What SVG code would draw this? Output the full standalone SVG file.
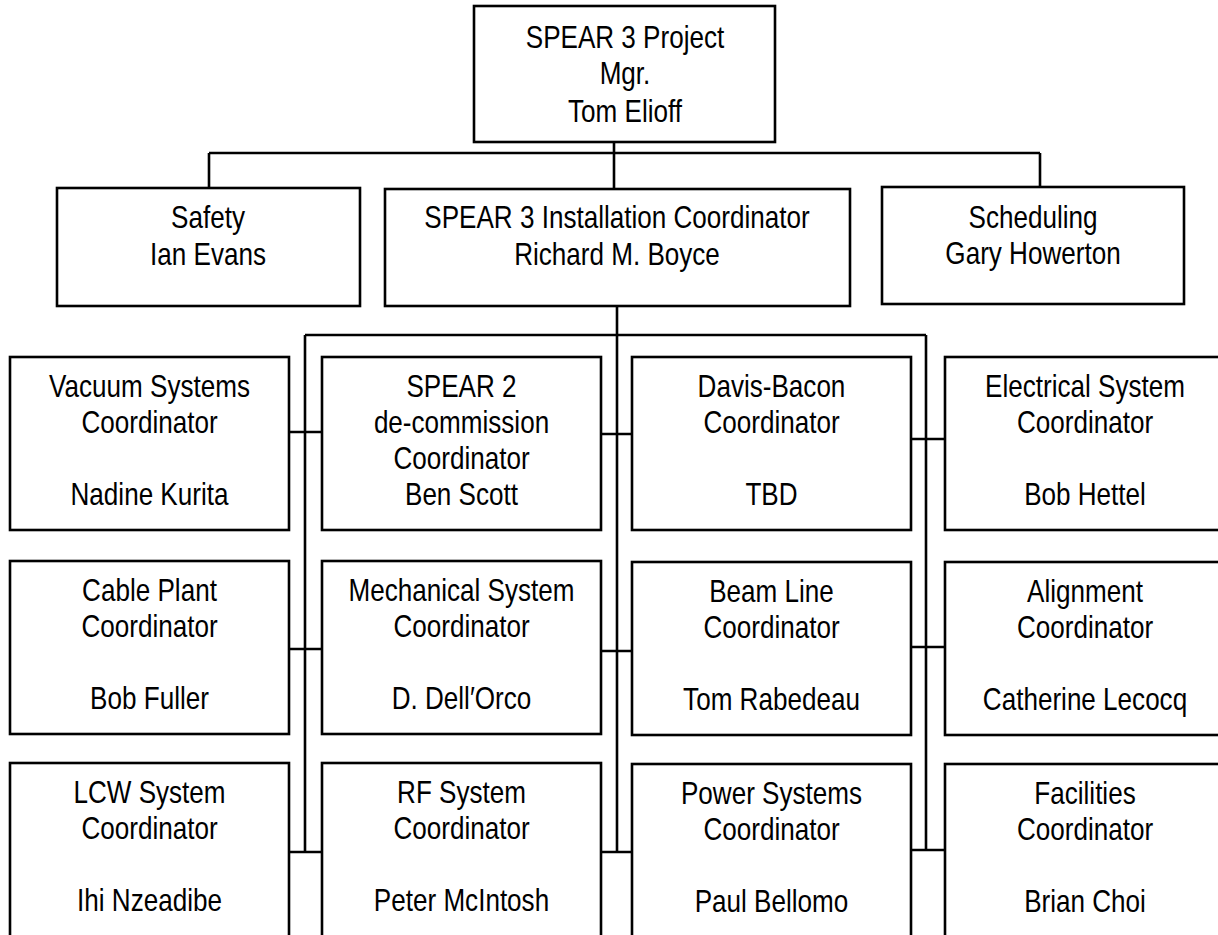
<svg xmlns="http://www.w3.org/2000/svg" width="1218" height="935" viewBox="0 0 1218 935">
<style>
.box{fill:#fff;stroke:#000;stroke-width:2.6}
.ln{fill:none;stroke:#000;stroke-width:2.6}
text{font-family:"Liberation Sans",Arial,sans-serif;font-size:30.5px;fill:#000;text-anchor:middle}
</style>
<rect width="1218" height="935" fill="#fff"/>
<g id="connectors">
<path class="ln" d="M614 142V189M209 153H1040M209 153V188M1040 153V188"/>
<path class="ln" d="M617 306V852M305 335H926M305 335V852M926 335V850"/>
<path class="ln" d="M289 432H322M289 649H322M289 852H322"/>
<path class="ln" d="M601 434H632M601 651H632M601 852H632"/>
<path class="ln" d="M911 439H945M911 647H945M911 850H945"/>
</g>
<g id="n_mgr"><rect class="box" x="474" y="6" width="301" height="136"/>
<text transform="translate(625 0) scale(0.855 1)"><tspan x="0" y="48">SPEAR 3 Project</tspan><tspan x="0" y="84">Mgr.</tspan><tspan x="0" y="122">Tom Elioff</tspan></text></g>
<g id="n_safety"><rect class="box" x="57" y="188" width="303" height="118"/>
<text transform="translate(208 0) scale(0.855 1)"><tspan x="0" y="228">Safety</tspan><tspan x="0" y="265">Ian Evans</tspan></text></g>
<g id="n_install"><rect class="box" x="385" y="189" width="465" height="117"/>
<text transform="translate(617 0) scale(0.855 1)"><tspan x="0" y="228">SPEAR 3 Installation Coordinator</tspan><tspan x="0" y="265">Richard M. Boyce</tspan></text></g>
<g id="n_sched"><rect class="box" x="882" y="187" width="302" height="117"/>
<text transform="translate(1033 0) scale(0.855 1)"><tspan x="0" y="228">Scheduling</tspan><tspan x="0" y="264">Gary Howerton</tspan></text></g>

<g id="n_vacuum"><rect class="box" x="10" y="357" width="279" height="173"/>
<text transform="translate(149.5 0) scale(0.855 1)"><tspan x="0" y="397">Vacuum Systems</tspan><tspan x="0" y="433">Coordinator</tspan><tspan x="0" y="505">Nadine Kurita</tspan></text></g>
<g id="n_spear2"><rect class="box" x="322" y="357" width="279" height="173"/>
<text transform="translate(461.5 0) scale(0.855 1)"><tspan x="0" y="397">SPEAR 2</tspan><tspan x="0" y="433">de-commission</tspan><tspan x="0" y="469">Coordinator</tspan><tspan x="0" y="505">Ben Scott</tspan></text></g>
<g id="n_davis"><rect class="box" x="632" y="357" width="279" height="173"/>
<text transform="translate(771.5 0) scale(0.855 1)"><tspan x="0" y="397">Davis-Bacon</tspan><tspan x="0" y="433">Coordinator</tspan><tspan x="0" y="505">TBD</tspan></text></g>
<g id="n_elec"><rect class="box" x="945" y="357" width="280" height="173"/>
<text transform="translate(1085 0) scale(0.855 1)"><tspan x="0" y="397">Electrical System</tspan><tspan x="0" y="433">Coordinator</tspan><tspan x="0" y="505">Bob Hettel</tspan></text></g>

<g id="n_cable"><rect class="box" x="10" y="561" width="279" height="173"/>
<text transform="translate(149.5 0) scale(0.855 1)"><tspan x="0" y="601">Cable Plant</tspan><tspan x="0" y="637">Coordinator</tspan><tspan x="0" y="709">Bob Fuller</tspan></text></g>
<g id="n_mech"><rect class="box" x="322" y="561" width="279" height="173"/>
<text transform="translate(461.5 0) scale(0.855 1)"><tspan x="0" y="601">Mechanical System</tspan><tspan x="0" y="637">Coordinator</tspan><tspan x="0" y="709">D. Dell′Orco</tspan></text></g>
<g id="n_beam"><rect class="box" x="632" y="562" width="279" height="173"/>
<text transform="translate(771.5 0) scale(0.855 1)"><tspan x="0" y="602">Beam Line</tspan><tspan x="0" y="638">Coordinator</tspan><tspan x="0" y="710">Tom Rabedeau</tspan></text></g>
<g id="n_align"><rect class="box" x="945" y="562" width="280" height="173"/>
<text transform="translate(1085 0) scale(0.855 1)"><tspan x="0" y="602">Alignment</tspan><tspan x="0" y="638">Coordinator</tspan><tspan x="0" y="710">Catherine Lecocq</tspan></text></g>

<g id="n_lcw"><rect class="box" x="10" y="763" width="279" height="190"/>
<text transform="translate(149.5 0) scale(0.855 1)"><tspan x="0" y="803">LCW System</tspan><tspan x="0" y="839">Coordinator</tspan><tspan x="0" y="911">Ihi Nzeadibe</tspan></text></g>
<g id="n_rf"><rect class="box" x="322" y="763" width="279" height="190"/>
<text transform="translate(461.5 0) scale(0.855 1)"><tspan x="0" y="803">RF System</tspan><tspan x="0" y="839">Coordinator</tspan><tspan x="0" y="911">Peter McIntosh</tspan></text></g>
<g id="n_power"><rect class="box" x="632" y="764" width="279" height="190"/>
<text transform="translate(771.5 0) scale(0.855 1)"><tspan x="0" y="804">Power Systems</tspan><tspan x="0" y="840">Coordinator</tspan><tspan x="0" y="912">Paul Bellomo</tspan></text></g>
<g id="n_fac"><rect class="box" x="945" y="764" width="280" height="190"/>
<text transform="translate(1085 0) scale(0.855 1)"><tspan x="0" y="804">Facilities</tspan><tspan x="0" y="840">Coordinator</tspan><tspan x="0" y="912">Brian Choi</tspan></text></g>
</svg>
